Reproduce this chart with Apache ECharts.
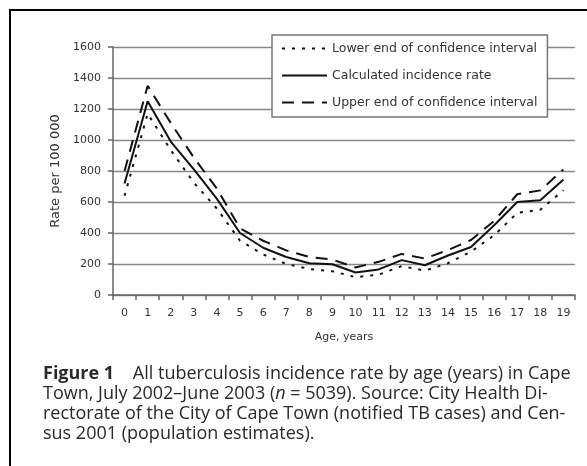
<!DOCTYPE html>
<html>
<head>
<meta charset="utf-8">
<script src="https://cdn.jsdelivr.net/npm/echarts@6/dist/echarts.min.js"></script>
<style>
  html, body { margin: 0; padding: 0; background: #fff; }
  #chart { width: 587px; height: 466px; }
</style>
</head>
<body>
<div id="chart"></div>
<script>
// age categories on the x axis
const ages = ['0', '1', '2', '3', '4', '5', '6', '7', '8', '9',
  '10', '11', '12', '13', '14', '15', '16', '17', '18', '19']

// rate per 100 000
const lowerCI = [640, 1170, 935, 725, 557, 350, 262, 200, 168, 153,
  115, 131, 187, 157, 205, 280, 385, 530, 550, 676]
const calcRate = [720, 1250, 990, 810, 620, 400, 305, 245, 205, 198,
  145, 165, 225, 192, 255, 310, 450, 600, 612, 745]
const upperCI = [800, 1350, 1110, 886, 686, 430, 350, 288, 245, 228,
  178, 214, 265, 235, 290, 355, 478, 650, 675, 810]

const seriesNames = [
  'Lower end of confidence interval',
  'Calculated incidence rate',
  'Upper end of confidence interval',
]

const yMin = 0
const yMax = 1600
const yStep = 200

const labelFont = { fontFamily: 'DejaVu Sans', fontSize: 11, color: '#333' }
const captionFont = 'Open Sans'
const captionSize = 18
const captionColor = '#2a2a2a'

const chart = echarts.init(document.getElementById('chart'))

chart.setOption({
  animation: false,
  backgroundColor: '#fff',
  grid: { left: 113, right: 12, top: 47, bottom: 171 },
  legend: {
    left: 272,
    top: 35,
    orient: 'vertical',
    data: seriesNames,
    itemWidth: 45,
    itemHeight: 14,
    itemGap: 14,
    padding: [7, 10, 8, 9],
    backgroundColor: '#fff',
    borderColor: '#777',
    borderWidth: 1.5,
    borderRadius: 0,
    itemStyle: { opacity: 0 },
    textStyle: { ...labelFont, fontSize: 12.5 },
  },
  xAxis: {
    type: 'category',
    data: ages,
    boundaryGap: true,
    name: 'Age, years',
    nameLocation: 'middle',
    nameGap: 37,
    nameTextStyle: labelFont,
    axisLine: { lineStyle: { color: '#666', width: 1.5 } },
    axisTick: { show: true, length: 5, lineStyle: { color: '#666', width: 1.5 } },
    axisLabel: { ...labelFont, margin: 13 },
    splitLine: { show: false },
  },
  yAxis: {
    type: 'value',
    min: yMin,
    max: yMax,
    interval: yStep,
    name: 'Rate per 100 000',
    nameLocation: 'middle',
    nameRotate: 90,
    nameGap: 47,
    nameTextStyle: { ...labelFont, fontSize: 13 },
    axisLine: { show: true, lineStyle: { color: '#666', width: 1.5 } },
    axisTick: { show: true, length: 5, lineStyle: { color: '#666', width: 1.5 } },
    axisLabel: { ...labelFont, margin: 12, formatter: (v) => String(v) },
    splitLine: { show: true, lineStyle: { color: '#888', width: 1.3 } },
  },
  series: [
    {
      name: seriesNames[0],
      type: 'line',
      data: lowerCI,
      symbol: 'none',
      lineStyle: { color: '#111', width: 2, type: [3, 7] },
      itemStyle: { color: '#111' },
    },
    {
      name: seriesNames[1],
      type: 'line',
      data: calcRate,
      symbol: 'none',
      lineStyle: { color: '#111', width: 2 },
      itemStyle: { color: '#111' },
    },
    {
      name: seriesNames[2],
      type: 'line',
      data: upperCI,
      symbol: 'none',
      lineStyle: { color: '#111', width: 2, type: [12, 8] },
      itemStyle: { color: '#111' },
    },
  ],
  graphic: [
    // frame (top and left edges)
    { type: 'line', shape: { x1: 9, y1: 10, x2: 587, y2: 10 }, style: { stroke: '#000', lineWidth: 2 } },
    { type: 'line', shape: { x1: 10, y1: 10, x2: 10, y2: 466 }, style: { stroke: '#000', lineWidth: 2 } },
    // caption
    {
      type: 'text', left: 43, top: 365,
      style: {
        text: '{b|Figure 1}    All tuberculosis incidence rate by age (years) in Cape',
        font: captionSize + 'px "' + captionFont + '"', fill: captionColor,
        rich: { b: { fontFamily: captionFont, fontSize: captionSize, fontWeight: 'bold', fill: captionColor } },
      },
    },
    {
      type: 'text', left: 43, top: 385,
      style: {
        text: 'Town, July 2002\u2013June 2003 ({i|n} = 5039). Source: City Health Di-',
        font: captionSize + 'px "' + captionFont + '"', fill: captionColor,
        rich: { i: { fontFamily: captionFont, fontSize: captionSize, fontStyle: 'italic', fill: captionColor } },
      },
    },
    {
      type: 'text', left: 43, top: 405,
      style: { text: 'rectorate of the City of Cape Town (notified TB cases) and Cen-', font: captionSize + 'px "' + captionFont + '"', fill: captionColor },
    },
    {
      type: 'text', left: 43, top: 425,
      style: { text: 'sus 2001 (population estimates).', font: captionSize + 'px "' + captionFont + '"', fill: captionColor },
    },
  ],
})
</script>
</body>
</html>
